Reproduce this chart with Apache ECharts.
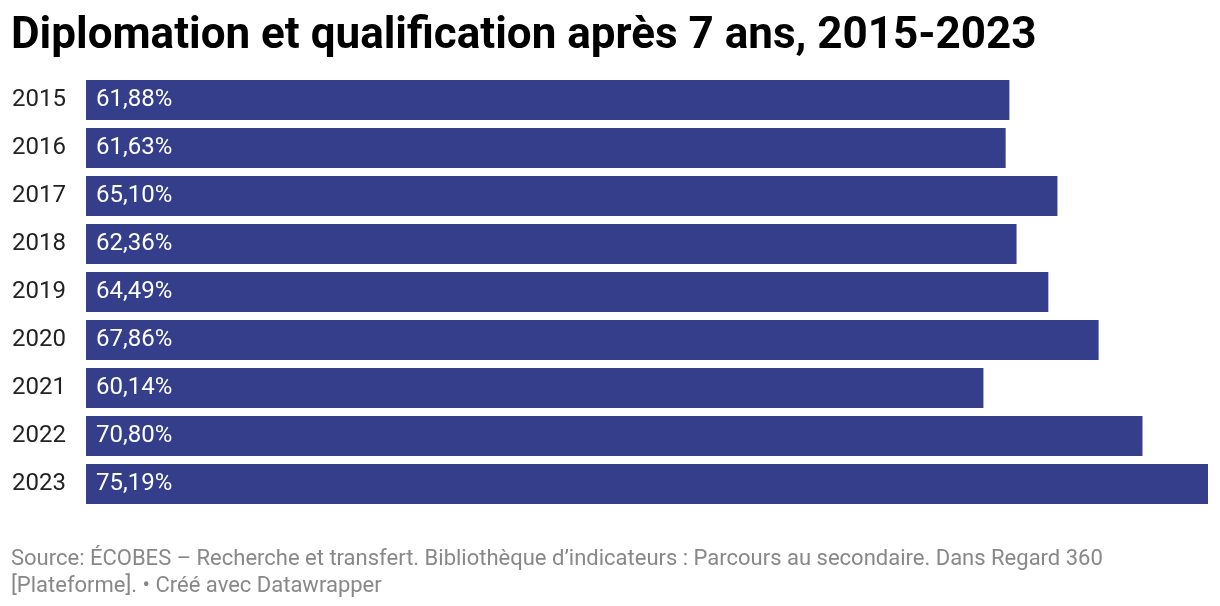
<!DOCTYPE html>
<html><head><meta charset="utf-8">
<script src="https://cdn.jsdelivr.net/npm/echarts@6/dist/echarts.min.js"></script>
<style>html,body{margin:0;padding:0;background:#fff}#c{width:1220px;height:606px}</style>
</head><body><div id="c"></div>
<script>
const titleText = "Diplomation et qualification après 7 ans, 2015-2023";
const years = ["2015","2016","2017","2018","2019","2020","2021","2022","2023"];
const values = [61.88, 61.63, 65.10, 62.36, 64.49, 67.86, 60.14, 70.80, 75.19];
const footerLines = ["Source: ÉCOBES – Recherche et transfert. Bibliothèque d’indicateurs : Parcours au secondaire. Dans Regard 360", "[Plateforme]. • Créé avec Datawrapper"];

const chart = echarts.init(document.getElementById('c'), null, {renderer:'canvas'});
chart.setOption({
  animation: false,
  backgroundColor: '#fff',
  title: [{
    text: titleText, left: 6, top: 10,
    textStyle: {fontFamily: 'Roboto', fontWeight: 'bold', fontSize: 44, color: '#000'}
  },{
    text: footerLines.join('\n'), left: 6, top: 541,
    textStyle: {fontFamily: 'Roboto', fontWeight: 'normal', fontSize: 22, color: '#888', lineHeight: 27}
  }],
  grid: {left: 86, right: 12, top: 76, height: 432, containLabel: false},
  xAxis: {type: 'value', min: 0, max: 75.19, show: false},
  yAxis: {
    type: 'category', data: years, inverse: true,
    axisLine: {show: false}, axisTick: {show: false},
    axisLabel: {align: 'left', margin: 74, fontFamily: 'Roboto', fontSize: 24, color: '#222', padding: [3, 0, 0, 0]}
  },
  series: [{
    type: 'bar', data: values, barCategoryGap: '16.7%',
    itemStyle: {color: '#343e8b'},
    label: {
      show: true, position: 'insideLeft', distance: 10,
      fontFamily: 'Roboto', fontSize: 24, color: '#fff', padding: [3, 0, 0, 0],
      formatter: p => p.value.toFixed(2).replace('.', ',') + '%'
    }
  }]
});
</script></body></html>
